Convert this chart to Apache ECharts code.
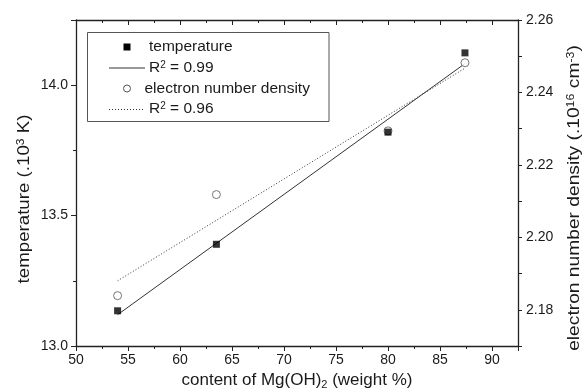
<!DOCTYPE html>
<html>
<head>
<meta charset="utf-8">
<script src="https://cdn.jsdelivr.net/npm/echarts@6/dist/echarts.min.js"></script>
<style>html,body{margin:0;padding:0;background:#fff}#c{width:584px;height:392px}</style>
</head>
<body>
<div id="c"></div>
<script>
// Data
var contentMgOH2 = [54.0, 63.5, 80.0, 87.4];
var temperature = [13.135, 13.39, 13.82, 14.124];          // 10^3 K
var electronDensity = [2.1839, 2.2118, 2.2294, 2.2482];    // 10^16 cm^-3
var fitTempX = [54.0, 87.4];
var fitTempY = [13.12, 14.083];
var fitDensX = [54.0, 87.4];
var fitDensY = [2.188, 2.2467];
var seriesNames = ['temperature', 'R² = 0.99', 'electron number density', 'R² = 0.96'];
var xTicks = { min: 50, max: 92.5, interval: 5 };
var tTicks = { min: 13, max: 14.25, interval: 0.5 };
var nTicks = { min: 2.17, max: 2.26, interval: 0.01 };

function pairs(xs, ys) { return xs.map(function (x, i) { return [x, ys[i]]; }); }

var FONT = 'Liberation Sans, Arial, sans-serif';
var TXT = '#1a1a1a';
var AX = '#222';
var supRich = {
  sup: { fontSize: 11, verticalAlign: 'top', fontFamily: FONT, fill: TXT, color: TXT, padding: [0, 0, 6, 0] },
  sub: { fontSize: 11, verticalAlign: 'bottom', fontFamily: FONT, fill: TXT, color: TXT, padding: [10, 0, 0, 0] }
};

var chart = echarts.init(document.getElementById('c'), null, { renderer: 'canvas' });
var axisLine = { show: true, lineStyle: { color: AX, width: 1.3 } };
var LG = 15.5; // legend font size

function legendText(x, y, txt) {
  return { type: 'text', x: x, y: y, z: 100, style: { text: txt, fontSize: LG, fontFamily: FONT, fill: TXT,
    align: 'left', verticalAlign: 'middle',
    rich: { sup: { fontSize: 10, verticalAlign: 'top', fontFamily: FONT, fill: TXT, padding: [0, 0, 5, 0] },
            n: { fontSize: LG, fontFamily: FONT, fill: TXT } } } };
}
function rName(name) { return name.indexOf('R²') === 0 ? '{n|R}{sup|2}{n|' + name.slice(2) + '}' : name; }

chart.setOption({
  animation: false,
  backgroundColor: '#fff',
  grid: { left: 76, right: 66, top: 20, bottom: 46, containLabel: false, outerBoundsMode: 'none' },
  xAxis: [{
    type: 'value', position: 'bottom', min: xTicks.min, max: xTicks.max, interval: xTicks.interval,
    axisLine: axisLine,
    axisTick: { show: true, inside: false, length: 5, lineStyle: { color: AX } },
    minorTick: { show: true, splitNumber: 2, length: 3, lineStyle: { color: AX } },
    splitLine: { show: false },
    axisLabel: { fontSize: 14, fontFamily: FONT, color: TXT, margin: 7, showMaxLabel: false },
    name: 'content of Mg(OH){sub|2} (weight %)',
    nameLocation: 'middle', nameGap: 17,
    nameTextStyle: { fontSize: 17, fontFamily: FONT, color: TXT, rich: supRich }
  }, {
    type: 'value', position: 'top', min: xTicks.min, max: xTicks.max, interval: xTicks.interval,
    axisLine: axisLine,
    axisTick: { show: true, inside: true, length: 5, lineStyle: { color: AX } },
    minorTick: { show: true, splitNumber: 2, length: 3, lineStyle: { color: AX } },
    splitLine: { show: false },
    axisLabel: { show: false }
  }],
  yAxis: [{
    type: 'value', position: 'left', min: tTicks.min, max: tTicks.max, interval: tTicks.interval,
    axisLine: axisLine,
    axisTick: { show: true, inside: false, length: 5, lineStyle: { color: AX } },
    minorTick: { show: true, splitNumber: 2, length: 3, lineStyle: { color: AX } },
    splitLine: { show: false },
    axisLabel: { fontSize: 14, fontFamily: FONT, color: TXT, margin: 8, showMaxLabel: false,
      formatter: function (v) { return v.toFixed(1); } }
  }, {
    type: 'value', position: 'right', min: nTicks.min, max: nTicks.max, interval: nTicks.interval,
    axisLine: axisLine,
    axisTick: { show: true, inside: false, length: 4, lineStyle: { color: AX } },
    splitLine: { show: false },
    axisLabel: { fontSize: 14, fontFamily: FONT, color: TXT, margin: 8,
      formatter: function (v) { return Math.round(v * 100) % 2 === 0 ? v.toFixed(2) : ''; } }
  }],
  graphic: [
    // axis titles (rotated)
    { type: 'text', x: 24, y: 199, rotation: Math.PI / 2, scaleX: 1.1,
      style: { text: 'temperature (.10{sup|3} K)', fontSize: 17, fontFamily: FONT, fill: TXT,
        align: 'center', verticalAlign: 'middle', rich: supRich } },
    { type: 'text', x: 574, y: 198, rotation: Math.PI / 2, scaleX: 1.13,
      style: { text: 'electron number density (.10{sup|16} cm{sup|-3})', fontSize: 17, fontFamily: FONT, fill: TXT,
        align: 'center', verticalAlign: 'middle', rich: supRich } },
    // legend box
    { type: 'rect', z: 90, shape: { x: 87.5, y: 32.5, width: 241.5, height: 89 },
      style: { fill: '#fff', stroke: '#555', lineWidth: 1 } },
    { type: 'rect', z: 100, shape: { x: 123.5, y: 43.5, width: 7, height: 7 }, style: { fill: '#000' } },
    legendText(149, 47, seriesNames[0]),
    { type: 'line', z: 100, shape: { x1: 109, y1: 68, x2: 145, y2: 68 }, style: { stroke: '#333', lineWidth: 1 } },
    legendText(149, 68, rName(seriesNames[1])),
    { type: 'circle', z: 100, shape: { cx: 127, cy: 88.5, r: 3.5 }, style: { fill: '#fff', stroke: '#555', lineWidth: 1 } },
    legendText(144.5, 89, seriesNames[2]),
    { type: 'line', z: 100, shape: { x1: 109, y1: 109.5, x2: 145, y2: 109.5 }, style: { stroke: '#333', lineWidth: 1, lineDash: [1, 2] } },
    legendText(149, 109, rName(seriesNames[3]))
  ],
  series: [{
    name: seriesNames[0], type: 'scatter', xAxisIndex: 0, yAxisIndex: 0,
    symbol: 'rect', symbolSize: 7, z: 5,
    itemStyle: { color: '#000' },
    data: pairs(contentMgOH2, temperature)
  }, {
    name: seriesNames[1], type: 'line', xAxisIndex: 0, yAxisIndex: 0,
    symbol: 'none', z: 3,
    lineStyle: { color: '#333', width: 1, type: 'solid' },
    data: pairs(fitTempX, fitTempY)
  }, {
    name: seriesNames[2], type: 'scatter', xAxisIndex: 0, yAxisIndex: 1,
    symbol: 'circle', symbolSize: 8, z: 4,
    itemStyle: { color: '#fff', borderColor: '#555', borderWidth: 1 },
    data: pairs(contentMgOH2, electronDensity)
  }, {
    name: seriesNames[3], type: 'line', xAxisIndex: 0, yAxisIndex: 1,
    symbol: 'none', z: 3,
    lineStyle: { color: '#333', width: 1, type: [1, 2] },
    data: pairs(fitDensX, fitDensY)
  }]
});
</script>
</body>
</html>
